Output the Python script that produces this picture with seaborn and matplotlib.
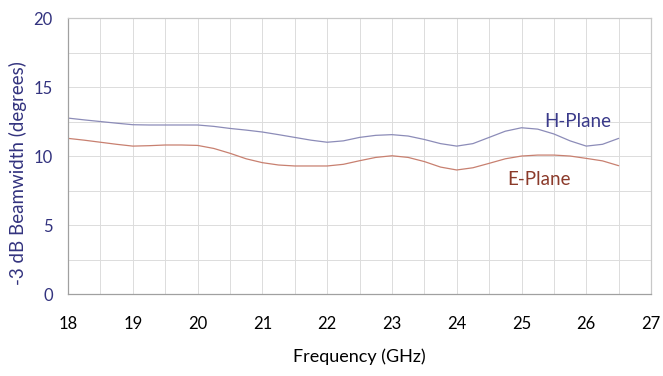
import matplotlib.pyplot as plt
import seaborn as sns
import pandas as pd
import numpy as np

sns.set_theme(style="white")
plt.rcParams['font.family'] = ['Lato', 'DejaVu Sans']

# values (every 0.25 GHz)
freq = [18, 18.25, 18.5, 18.75, 19, 19.25, 19.5, 19.75, 20, 20.25, 20.5, 20.75,
        21, 21.25, 21.5, 21.75, 22, 22.25, 22.5, 22.75, 23, 23.25, 23.5, 23.75,
        24, 24.25, 24.5, 24.75, 25, 25.25, 25.5, 25.75, 26, 26.25, 26.5]
h_plane = [12.75, 12.62, 12.5, 12.38, 12.27, 12.25, 12.25, 12.25, 12.25, 12.15, 12.0, 11.88,
           11.74, 11.55, 11.35, 11.15, 11.0, 11.1, 11.35, 11.5, 11.55, 11.45, 11.2, 10.9,
           10.72, 10.9, 11.35, 11.8, 12.05, 11.95, 11.6, 11.1, 10.72, 10.85, 11.28]
e_plane = [11.28, 11.15, 11.0, 10.85, 10.72, 10.75, 10.8, 10.8, 10.77, 10.55, 10.2, 9.8,
           9.52, 9.35, 9.28, 9.28, 9.28, 9.4, 9.66, 9.9, 10.02, 9.9, 9.6, 9.2,
           8.99, 9.15, 9.47, 9.8, 10.0, 10.07, 10.07, 10.0, 9.83, 9.65, 9.3]
x_ticks = [18, 19, 20, 21, 22, 23, 24, 25, 26, 27]
y_ticks = [0, 5, 10, 15, 20]

df = pd.DataFrame({'freq': freq * 2,
                   'bw': h_plane + e_plane,
                   'plane': ['H-Plane'] * len(freq) + ['E-Plane'] * len(freq)})

navy = '#33337f'
fig = plt.figure(figsize=(6.63, 3.76), dpi=100)
ax = fig.add_axes([0.1026, 0.218, 0.8794, 0.734])

sns.lineplot(data=df, x='freq', y='bw', hue='plane',
             palette={'H-Plane': '#8c8cb8', 'E-Plane': '#c88070'},
             linewidth=0.9, legend=False, ax=ax)

ax.set_xlim(18, 27)
ax.set_ylim(0, 20)
ax.set_xticks(x_ticks)
ax.set_yticks(y_ticks)
ax.set_xticks(np.arange(18, 27.01, 0.5), minor=True)
ax.set_yticks(np.arange(0, 20.01, 2.5), minor=True)
ax.grid(which='both', color='#dcdcdc', linewidth=0.7)
ax.set_axisbelow(True)
ax.tick_params(which='both', length=0)
ax.tick_params(axis='x', pad=16, labelsize=12, labelcolor='black')
ax.tick_params(axis='y', pad=11, labelsize=12, labelcolor=navy)
for s in ax.spines.values():
    s.set_color('#c8c8c8')
    s.set_linewidth(0.9)
ax.spines['left'].set_color('#a0a0a0')
ax.spines['bottom'].set_color('#a0a0a0')

ax.set_xlabel('Frequency (GHz)', fontsize=13, color='black', labelpad=12)
ax.set_ylabel('-3 dB Beamwidth (degrees)', fontsize=13.5, color=navy, va='center')
ax.yaxis.set_label_coords(-0.086, 0.44)

ax.text(25.87, 12.5, 'H-Plane', fontsize=13.5, color='#3a3a8a', ha='center', va='center')
ax.text(25.27, 8.33, 'E-Plane', fontsize=13.5, color='#8b3a2a', ha='center', va='center')

fig.savefig('out.png', dpi=100)
